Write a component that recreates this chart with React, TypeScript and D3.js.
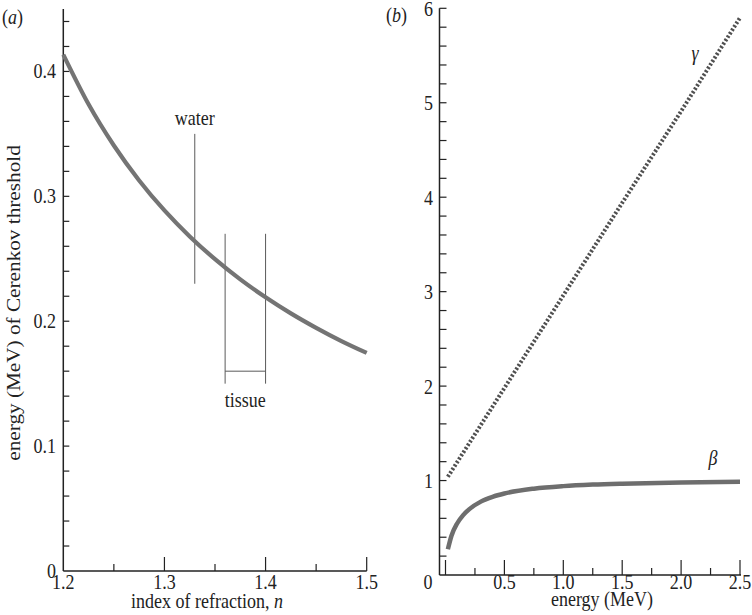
import React from 'react';
import * as d3 from 'd3';

// panel (a): Cerenkov threshold vs refractive index
const refrIndex = [1.2, 1.225, 1.25, 1.275, 1.3, 1.325, 1.35, 1.375, 1.4, 1.425, 1.45, 1.475, 1.5];
const thresholdMeV = [0.4135, 0.3737, 0.3407, 0.3127, 0.2887, 0.2679, 0.2497, 0.2335, 0.2192, 0.2063, 0.1947, 0.1841, 0.1746];
const waterN = 1.33;
const waterRange = [0.23, 0.35];
const tissueN = [1.36, 1.4];
const tissueRange = [0.15, 0.27];
const tissueBracket = 0.16;
const aXTicks = [1.2, 1.3, 1.4, 1.5];
const aXMinor = [1.25, 1.35, 1.45];
const aYTicks = [0, 0.1, 0.2, 0.3, 0.4];

// panel (b): beta and gamma vs electron energy
const betaEnergy = [0.02, 0.05, 0.1, 0.15, 0.2, 0.3, 0.4, 0.5, 0.75, 1.0, 1.25, 1.5, 2.0, 2.5];
const betaValues = [0.272, 0.413, 0.548, 0.634, 0.695, 0.777, 0.828, 0.863, 0.914, 0.941, 0.957, 0.967, 0.979, 0.986];
const gammaEnergy = [0.02, 0.5, 1.0, 1.5, 2.0, 2.5];
const gammaValues = [1.04, 1.98, 2.96, 3.94, 4.91, 5.9];
const bXTicks = [0.5, 1.0, 1.5, 2.0, 2.5];
const bXMinor = [0.25, 0.75, 1.25, 1.75, 2.25];
const bYTicks = [1, 2, 3, 4, 5, 6];

const FONT = "'Liberation Serif', Tinos, 'Times New Roman', 'DejaVu Serif', serif";
const FS = 18;
const STRETCH = 1.18;

const T = ({ x, y, children, anchor = 'middle', italic = false, rotate = false }: any) => (
  <text
    transform={`translate(${x},${y}) scale(1,${STRETCH})${rotate ? ' rotate(-90)' : ''}`}
    textAnchor={anchor}
    style={{ fontFamily: FONT, fontSize: FS, fontStyle: italic ? 'italic' : 'normal' }}
    fill="#222"
  >
    {children}
  </text>
);

const App = () => {
  // panel (a) scales
  const ax = d3.scaleLinear().domain([1.2, 1.5]).range([63.3, 366.7]);
  const ay = d3.scaleLinear().domain([0, 0.45]).range([571, 9]);
  const aMinorY = d3.range(0, 0.451, 0.02).map((v) => +v.toFixed(2));

  // panel (b) scales
  const bx = d3.scaleLinear().domain([0, 2.5]).range([445.5, 740]);
  const by = d3.scaleLinear().domain([0, 6]).range([575, 8.3]);
  const bMinorY = d3.range(0.2, 6.01, 0.2).map((v) => +v.toFixed(1));

  const aLine = d3
    .line<number>()
    .x((d, i) => ax(refrIndex[i]))
    .y((d) => ay(d))
    .curve(d3.curveMonotoneX);
  const betaLine = d3
    .line<number>()
    .x((d, i) => bx(betaEnergy[i]))
    .y((d) => by(d))
    .curve(d3.curveMonotoneX);
  const gammaLine = d3
    .line<number>()
    .x((d, i) => bx(gammaEnergy[i]))
    .y((d) => by(d));

  const axisColor = '#222';
  const thin = '#5a5a5a';

  return (
    <svg
      width={752}
      height={615}
      style={{ position: 'absolute', left: 0, top: 0, background: '#fff' }}
    >
      {/* ---------- panel (a) ---------- */}
      <T x={2} y={24} anchor="start">
        (<tspan fontStyle="italic">a</tspan>)
      </T>
      <line x1={ax(1.2)} x2={ax(1.2)} y1={ay(0)} y2={ay(0.45)} stroke={axisColor} strokeWidth={1.5} />
      <line x1={ax(1.2)} x2={ax(1.5)} y1={ay(0)} y2={ay(0)} stroke={axisColor} strokeWidth={1.5} />
      {aMinorY.filter((v) => v > 0).map((v) => (
        <line key={'ay' + v} x1={ax(1.2)} x2={ax(1.2) + 6} y1={ay(v)} y2={ay(v)} stroke={axisColor} strokeWidth={1.2} />
      ))}
      {aYTicks.map((v) => (
        <T key={'ayl' + v} x={56} y={ay(v) + 7} anchor="end">
          {v === 0 ? '0' : v.toFixed(1)}
        </T>
      ))}
      {aXTicks.filter((v) => v > 1.2).map((v) => (
        <line key={'axt' + v} x1={ax(v)} x2={ax(v)} y1={ay(0)} y2={ay(0) - 14} stroke={axisColor} strokeWidth={1.2} />
      ))}
      {aXMinor.map((v) => (
        <line key={'axm' + v} x1={ax(v)} x2={ax(v)} y1={ay(0)} y2={ay(0) - 7} stroke={axisColor} strokeWidth={1.2} />
      ))}
      {aXTicks.map((v) => (
        <T key={'axl' + v} x={ax(v)} y={589}>
          {v.toFixed(1)}
        </T>
      ))}
      <T x={207} y={608}>
        index of refraction, <tspan fontStyle="italic">n</tspan>
      </T>
      <T x={20} y={303} rotate>
        energy (MeV) of Cerenkov threshold
      </T>

      {/* water / tissue markers */}
      <line x1={ax(waterN)} x2={ax(waterN)} y1={ay(waterRange[0])} y2={ay(waterRange[1])} stroke={thin} strokeWidth={1} />
      <T x={ax(waterN)} y={ay(waterRange[1]) - 9}>water</T>
      {tissueN.map((n) => (
        <line key={'t' + n} x1={ax(n)} x2={ax(n)} y1={ay(tissueRange[0])} y2={ay(tissueRange[1])} stroke={thin} strokeWidth={1} />
      ))}
      <line x1={ax(tissueN[0])} x2={ax(tissueN[1])} y1={ay(tissueBracket)} y2={ay(tissueBracket)} stroke={thin} strokeWidth={1} />
      <T x={(ax(tissueN[0]) + ax(tissueN[1])) / 2} y={ay(tissueRange[0]) + 23}>tissue</T>

      <path d={aLine(thresholdMeV) || ''} fill="none" stroke="#747474" strokeWidth={4.2} />

      {/* ---------- panel (b) ---------- */}
      <T x={386} y={22} anchor="start">
        (<tspan fontStyle="italic">b</tspan>)
      </T>
      <line x1={439.5} x2={439.5} y1={by(0)} y2={by(6)} stroke={axisColor} strokeWidth={1.5} />
      <line x1={439.5} x2={bx(2.5) + 1} y1={by(0)} y2={by(0)} stroke={axisColor} strokeWidth={1.5} />
      {bMinorY.map((v) => (
        <line key={'by' + v} x1={439.5} x2={439.5 + 7} y1={by(v)} y2={by(v)} stroke={axisColor} strokeWidth={1.2} />
      ))}
      {bYTicks.map((v) => (
        <T key={'byl' + v} x={433} y={by(v) + 7.5} anchor="end">
          {v}
        </T>
      ))}
      {[0, ...bXTicks].map((v) => (
        <line key={'bxt' + v} x1={bx(v)} x2={bx(v)} y1={by(0)} y2={by(0) - 15} stroke={axisColor} strokeWidth={1.2} />
      ))}
      {bXMinor.map((v) => (
        <line key={'bxm' + v} x1={bx(v)} x2={bx(v)} y1={by(0)} y2={by(0) - 7} stroke={axisColor} strokeWidth={1.2} />
      ))}
      <T x={428} y={589}>0</T>
      {bXTicks.map((v) => (
        <T key={'bxl' + v} x={bx(v)} y={589}>
          {v.toFixed(1)}
        </T>
      ))}
      <T x={602} y={606}>energy (MeV)</T>

      <path d={gammaLine(gammaValues) || ''} fill="none" stroke="#505050" strokeWidth={4} strokeDasharray="2.2 1.9" />
      <path d={betaLine(betaValues) || ''} fill="none" stroke="#6e6e6e" strokeWidth={4.5} />
      <T x={695} y={60} italic>γ</T>
      <T x={713} y={465} italic>β</T>
    </svg>
  );
};

export default App;
